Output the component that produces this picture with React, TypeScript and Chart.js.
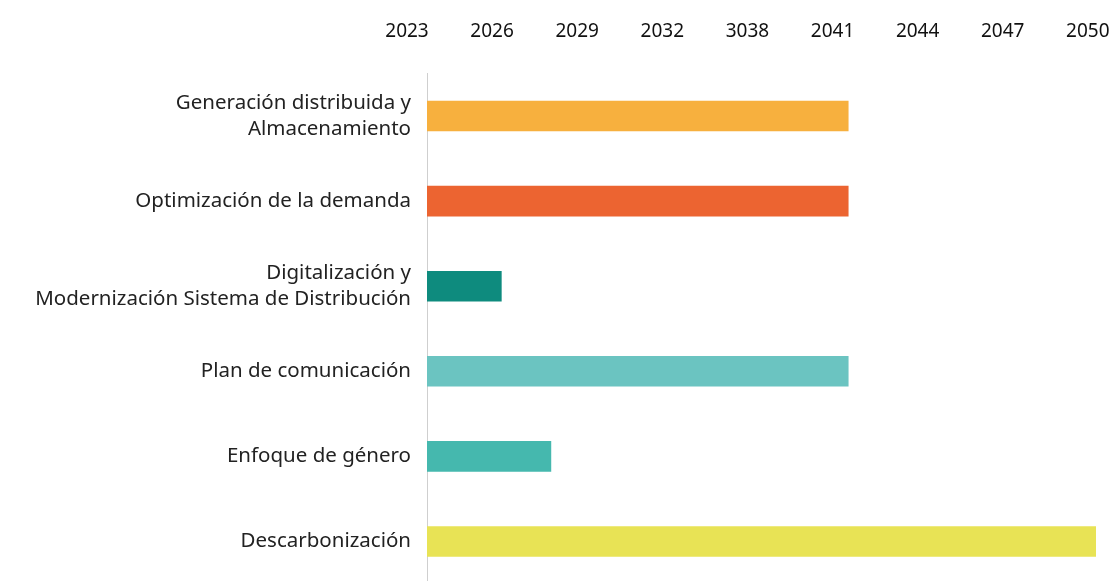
import React, { useEffect, useRef } from "react";
import { Chart, registerables } from "chart.js";

Chart.register(...registerables);

const categories: (string | string[])[] = [
  ["Generación distribuida y", "Almacenamiento"],
  "Optimización de la demanda",
  ["Digitalización y", "Modernización Sistema de Distribución"],
  "Plan de comunicación",
  "Enfoque de género",
  "Descarbonización",
];

// duration in years counted from 2023
const durations = [17, 17, 3, 17, 5, 27];

const barColors = ["#F7B03E", "#EC6431", "#0E8B7E", "#6BC4C1", "#45B8AE", "#E8E355"];

const yearLabels = ["2023", "2026", "2029", "2032", "3038", "2041", "2044", "2047", "2050"];

export default function App() {
  const ref = useRef<HTMLCanvasElement | null>(null);

  useEffect(() => {
    if (!ref.current) return;
    const chart = new Chart(ref.current, {
      type: "bar",
      data: {
        labels: categories,
        datasets: [
          {
            data: durations,
            backgroundColor: barColors,
            borderWidth: 0,
            barThickness: 30,
          },
        ],
      },
      options: {
        indexAxis: "y",
        responsive: false,
        animation: false,
        layout: { padding: { left: 0, right: 17, top: 0, bottom: 0 } },
        plugins: { legend: { display: false }, tooltip: { enabled: false } },
        scales: {
          x: {
            type: "linear",
            min: 0,
            max: 27,
            display: false,
          },
          x2: {
            type: "linear",
            position: "top",
            min: 0.235,
            max: 8.096,
            grid: { display: false, drawTicks: false },
            border: { display: false },
            afterBuildTicks: (scale: any) => {
              scale.ticks = yearLabels.map((_, i) => ({ value: i }));
            },
            afterFit: (scale: any) => {
              scale.height = 73.5;
              scale.paddingLeft = 0;
              scale.paddingRight = 0;
            },
            ticks: {
              autoSkip: false,
              maxRotation: 0,
              padding: 31,
              color: "#111",
              font: { family: "Noto Sans", size: 19 },
              callback: (_v: any, i: number) => yearLabels[i],
            },
          },
          y: {
            type: "category",
            grid: { display: false, drawTicks: false },
            border: { display: true, color: "#cfcfcf", width: 1 },
            afterFit: (scale: any) => {
              scale.width = 427;
              scale.paddingTop = 0;
              scale.paddingBottom = 0;
            },
            ticks: {
              padding: 16,
              color: "#222",
              font: { family: "Noto Sans", size: 20.5, lineHeight: 1.25 },
            },
          },
        },
      },
    });
    return () => chart.destroy();
  }, []);

  return (
    <div
      style={{
        position: "fixed",
        left: 0,
        top: 0,
        width: 1113,
        height: 581,
        overflow: "hidden",
        background: "#fff",
      }}
    >
      <canvas ref={ref} width={1113} height={584} style={{ display: "block" }} />
    </div>
  );
}
